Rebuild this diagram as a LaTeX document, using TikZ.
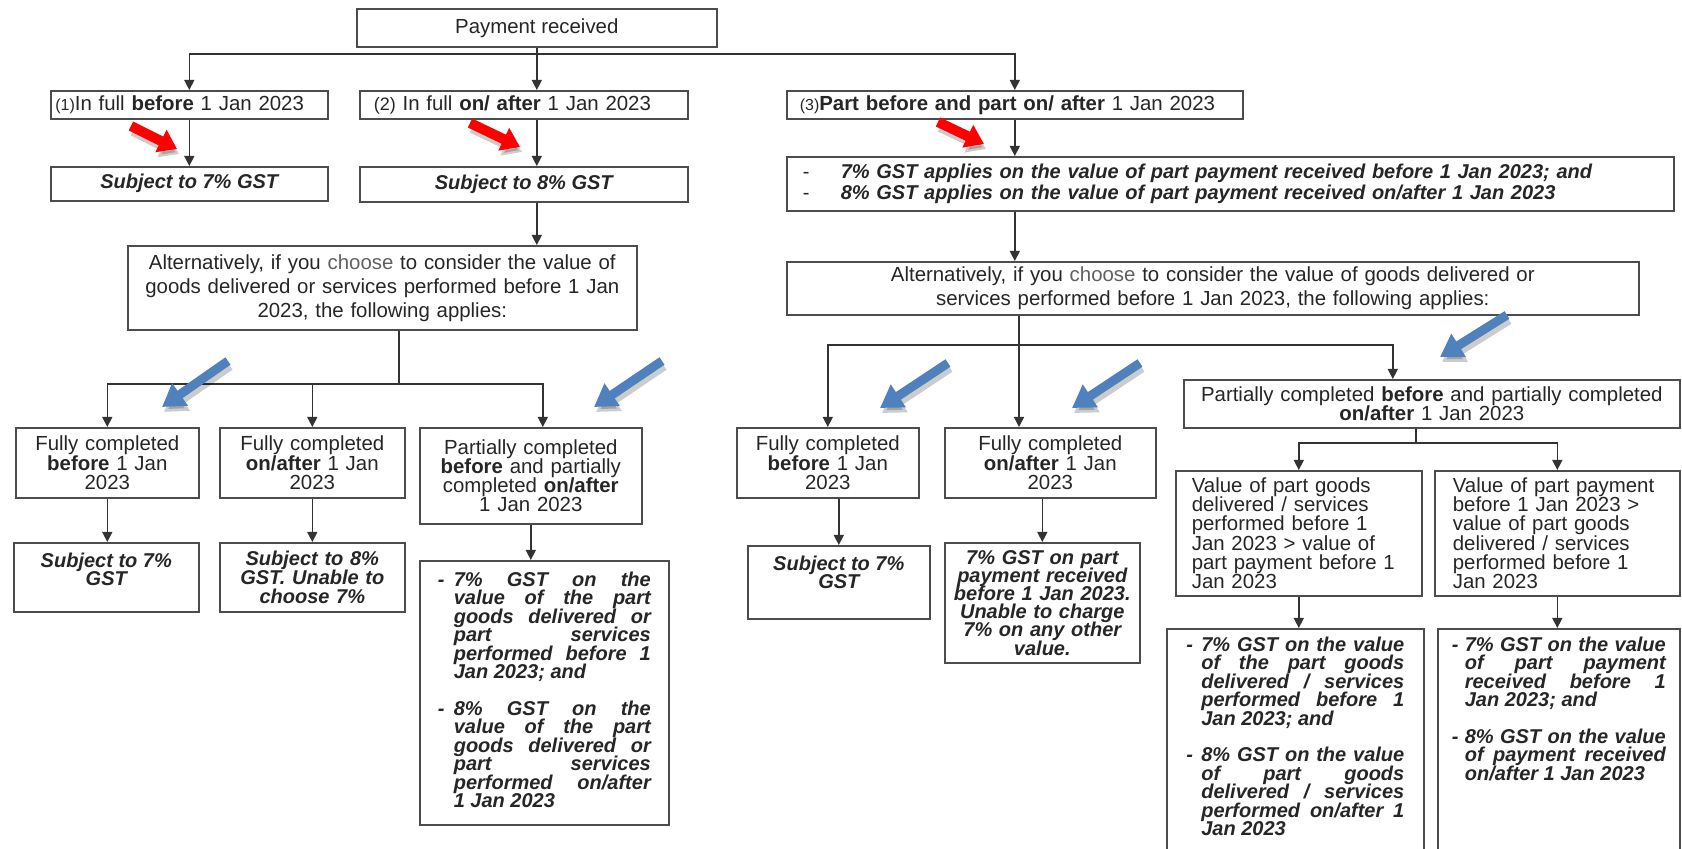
\documentclass[tikz,border=0pt]{standalone}
\usepackage{fontspec}
\setmainfont{Liberation Sans}
\usetikzlibrary{arrows.meta}
\definecolor{markblue}{RGB}{79,129,189}
\definecolor{textgrey}{RGB}{38,38,38}
\tolerance=10000
\hyphenpenalty=10000
\newcommand{\tightlines}{\lineskiplimit-5pt\relax}
\newcommand{\ruleset}{\tolerance10000\lineskiplimit-5pt\baselineskip9.25pt\relax}

\begin{document}
\begin{tikzpicture}[x=0.5pt,y=-0.5pt,
  box/.style={draw=black!70,line width=0.8pt,fill=white,anchor=north west,inner sep=0pt,
    text=textgrey,font=\fontsize{10.2}{9.6}\selectfont\tightlines},
  rulebox/.style={box,font=\fontsize{10}{9.3}\selectfont\tightlines\bfseries\itshape},
  link/.style={draw=black!80,line width=0.7pt,-{Triangle[length=5pt,width=5pt]}},
  branch/.style={draw=black!80,line width=0.7pt},
  redmark/.style={red,line width=5pt,-{Triangle[length=9pt,width=12pt]}},
  bluemark/.style={markblue,line width=4.5pt,-{Triangle[length=11pt,width=13pt]}},
  shadowed/.style={black,opacity=0.2}]
\useasboundingbox (0,0) rectangle (1682,849);
\clip (0,0) rectangle (1682,849);
\fill[white] (0,0) rectangle (1682,849);

% top row
\node[box,minimum width=180pt,minimum height=19pt] (pay) at (356,8) {Payment received};
\node[box,text width=134pt,inner xsep=2.25pt,minimum height=14pt,align=left] (in1) at (50,90)
  {{\footnotesize(1)}In full \textbf{before} 1 Jan 2023};
\node[box,text width=150pt,inner xsep=7pt,minimum height=14pt,align=left] (in2) at (359,90)
  {{\small(2)} In full \textbf{on/ after} 1 Jan 2023};
\node[box,text width=215pt,inner xsep=6.5pt,minimum height=14pt,align=left] (in3) at (786,90)
  {{\footnotesize(3)}\textbf{Part before and part on/ after} 1 Jan 2023};

\node[rulebox,minimum width=138.5pt,minimum height=17pt] (s7a) at (50,166) {Subject to 7\% GST};
\node[rulebox,minimum width=164pt,minimum height=17.5pt] (s8a) at (359,166) {Subject to 8\% GST};
\node[rulebox,text width=427.5pt,inner xsep=8pt,minimum height=27pt,align=left,
  font=\fontsize{10}{10.7}\selectfont\bfseries\itshape] (res3) at (786,156)
  {\makebox[19pt][l]{\mdseries\upshape-}7\% GST applies on the value of part payment received before 1 Jan 2023; and\\
   \makebox[19pt][l]{\mdseries\upshape-}8\% GST applies on the value of part payment received on/after 1 Jan 2023};

% alternatives
\node[box,text width=250pt,inner xsep=2.25pt,minimum height=42pt,align=center,
  font=\fontsize{10.2}{12}\selectfont] (altL) at (127,245)
  {Alternatively, if you \textcolor{black!62}{choose} to consider the value of\\
   goods delivered or services performed before 1 Jan\\2023, the following applies:};
\node[box,text width=420pt,inner xsep=3pt,minimum height=26.5pt,align=center,
  font=\fontsize{10.2}{11.8}\selectfont] (altR) at (786,261)
  {Alternatively, if you \textcolor{black!62}{choose} to consider the value of goods delivered or\\
   services performed before 1 Jan 2023, the following applies:};

% left branch
\node[box,text width=85.5pt,inner xsep=3pt,minimum height=35pt,align=center] (fcb1) at (15,427)
  {Fully completed\\\textbf{before} 1 Jan\\2023};
\node[box,text width=86.5pt,inner xsep=3pt,minimum height=35pt,align=center] (fca1) at (219,427)
  {Fully completed\\\textbf{on/after} 1 Jan\\2023};
\node[box,text width=105pt,inner xsep=3pt,minimum height=48pt,align=center] (pc1) at (419,427)
  {Partially completed\\\textbf{before} and partially\\completed \textbf{on/after}\\1 Jan 2023};

\node[rulebox,inner xsep=5pt,inner ysep=5pt] (r1a) at (13,542)
  {\parbox[c][24.5pt][t]{82.5pt}{\centering Subject to 7\%\\GST}};
\node[rulebox,text width=86.5pt,inner xsep=3pt,minimum height=34.5pt,align=center] (r1b) at (219,542)
  {Subject to 8\%\\GST. Unable to\\choose 7\%};
\node[rulebox,inner xsep=9pt,inner ysep=5.5pt] (r1c) at (419,560)
  {\parbox[c][121pt][t]{106.5pt}{\ruleset
   \hangindent=8pt\hangafter=1\makebox[8pt][l]{-}7\% GST on the\linebreak value of the part\linebreak
   goods delivered or\linebreak part services\linebreak performed before 1\linebreak Jan 2023; and\par
   \vspace{9pt}
   \hangindent=8pt\hangafter=1\makebox[8pt][l]{-}8\% GST on the\linebreak value of the part\linebreak
   goods delivered or\linebreak part services\linebreak performed on/after\linebreak 1 Jan 2023\par}};

% right branch
\node[box,text width=85pt,inner xsep=3pt,minimum height=35pt,align=center] (fcb2) at (736,427)
  {Fully completed\\\textbf{before} 1 Jan\\2023};
\node[box,text width=99.5pt,inner xsep=3pt,minimum height=35pt,align=center] (fca2) at (944,427)
  {Fully completed\\\textbf{on/after} 1 Jan\\2023};
\node[box,text width=242pt,inner xsep=3pt,minimum height=24pt,align=center] (pc2) at (1183,379)
  {Partially completed \textbf{before} and partially completed\\\textbf{on/after} 1 Jan 2023};

\node[rulebox,inner xsep=5pt,inner ysep=5pt] (r2a) at (747,545)
  {\parbox[c][26.5pt][t]{81pt}{\centering Subject to 7\%\\GST}};
\node[rulebox,text width=91.5pt,inner xsep=3pt,minimum height=60pt,align=center,
  font=\fontsize{10}{9.1}\selectfont\tightlines\bfseries\itshape] (r2b) at (944,542)
  {7\% GST on part\\payment received\\before 1 Jan 2023.\\Unable to charge\\7\% on any other\\value.};

\node[box,text width=107pt,inner xsep=8pt,minimum height=62.5pt,align=left] (vg) at (1175,470)
  {Value of part goods\\delivered / services\\performed before 1\\Jan 2023 > value of\\part payment before 1\\Jan 2023};
\node[box,text width=104.5pt,inner xsep=9pt,minimum height=62.5pt,align=left] (vp) at (1434,470)
  {Value of part payment\\before 1 Jan 2023 >\\value of part goods\\delivered / services\\performed before 1\\Jan 2023};

\node[rulebox,inner xsep=9.75pt,inner ysep=4pt] (rg) at (1166,628)
  {\parbox[c][142pt][t]{109pt}{\ruleset
   \hangindent=7.5pt\hangafter=1\makebox[7.5pt][l]{-}7\% GST on the value\linebreak of the part goods\linebreak
   delivered / services\linebreak performed before 1\linebreak Jan 2023; and\par
   \vspace{9pt}
   \hangindent=7.5pt\hangafter=1\makebox[7.5pt][l]{-}8\% GST on the value\linebreak of part goods\linebreak
   delivered / services\linebreak performed on/after 1\linebreak Jan 2023\par}};
\node[rulebox,inner xsep=7pt,inner ysep=4pt] (rp) at (1437,628)
  {\parbox[c][142pt][t]{107pt}{\ruleset
   \hangindent=6.5pt\hangafter=1\makebox[6.5pt][l]{-}7\% GST on the value\linebreak of part payment\linebreak
   received before 1\linebreak Jan 2023; and\par
   \vspace{9pt}
   \hangindent=6.5pt\hangafter=1\makebox[6.5pt][l]{-}8\% GST on the value\linebreak of payment received\linebreak
   on/after 1 Jan 2023\par}};

% connectors
\coordinate (bus) at (536,54);
\coordinate (lbus) at (399,384);
\coordinate (rbus) at (1019,345);
\coordinate (sbus) at (1416,443);
\draw[link] (pay.south) -- (pay.south |- in2.north);
\draw[link] (bus) -| (in1.north);
\draw[link] (bus) -| (in3.north);
\draw[link] (in1.south) -- (s7a.north);
\draw[link] (pay.south |- in2.south) -- (pay.south |- s8a.north);
\draw[link] (in3.south) -- (in3.south |- res3.north);
\draw[link] (pay.south |- s8a.south) -- (pay.south |- altL.north);
\draw[link] (in3.south |- res3.south) -- (in3.south |- altR.north);

\draw[branch] (altL.south -| lbus) -- (lbus);
\draw[link] (lbus) -| (fcb1.north);
\draw[link] (lbus) -| (fca1.north);
\draw[link] (lbus) -| ([xshift=6pt]pc1.north);
\draw[link] (fcb1.south) -- (fcb1.south |- r1a.north);
\draw[link] (fca1.south) -- (r1b.north);
\draw[link] (pc1.south) -- (pc1.south |- r1c.north);

\draw[link] (altR.south -| rbus) -- (rbus |- fca2.north);
\draw[link] (rbus) -| (fcb2.north);
\draw[link] (rbus) -| ([xshift=-19.5pt]pc2.north);
\draw[link] (r2a.north |- fcb2.south) -- (r2a.north);
\draw[link] (r2b.north |- fca2.south) -- (r2b.north);
\draw[branch] (pc2.south -| sbus) -- (sbus);
\draw[link] (sbus) -| (vg.north);
\draw[link] (sbus) -| (vp.north);
\draw[link] (vg.south) -- (vg.south |- rg.north);
\draw[link] (vp.south) -- (vp.south |- rp.north);

% marks
\foreach \ax/\ay/\bx/\by in {131/126/177/149, 470/123/520/147, 938/122/984/144} {
  \draw[redmark,shadowed,shift={(2,5)}] (\ax,\ay) -- (\bx,\by);
  \draw[redmark] (\ax,\ay) -- (\bx,\by);
}
\foreach \ax/\ay/\bx/\by in {228/361/162/407, 662/361/594/407, 948/363/880/408, 1140/363/1072/408, 1507/315/1440/357} {
  \draw[bluemark,shadowed,shift={(2,5)}] (\ax,\ay) -- (\bx,\by);
  \draw[bluemark] (\ax,\ay) -- (\bx,\by);
}
\end{tikzpicture}
\end{document}
